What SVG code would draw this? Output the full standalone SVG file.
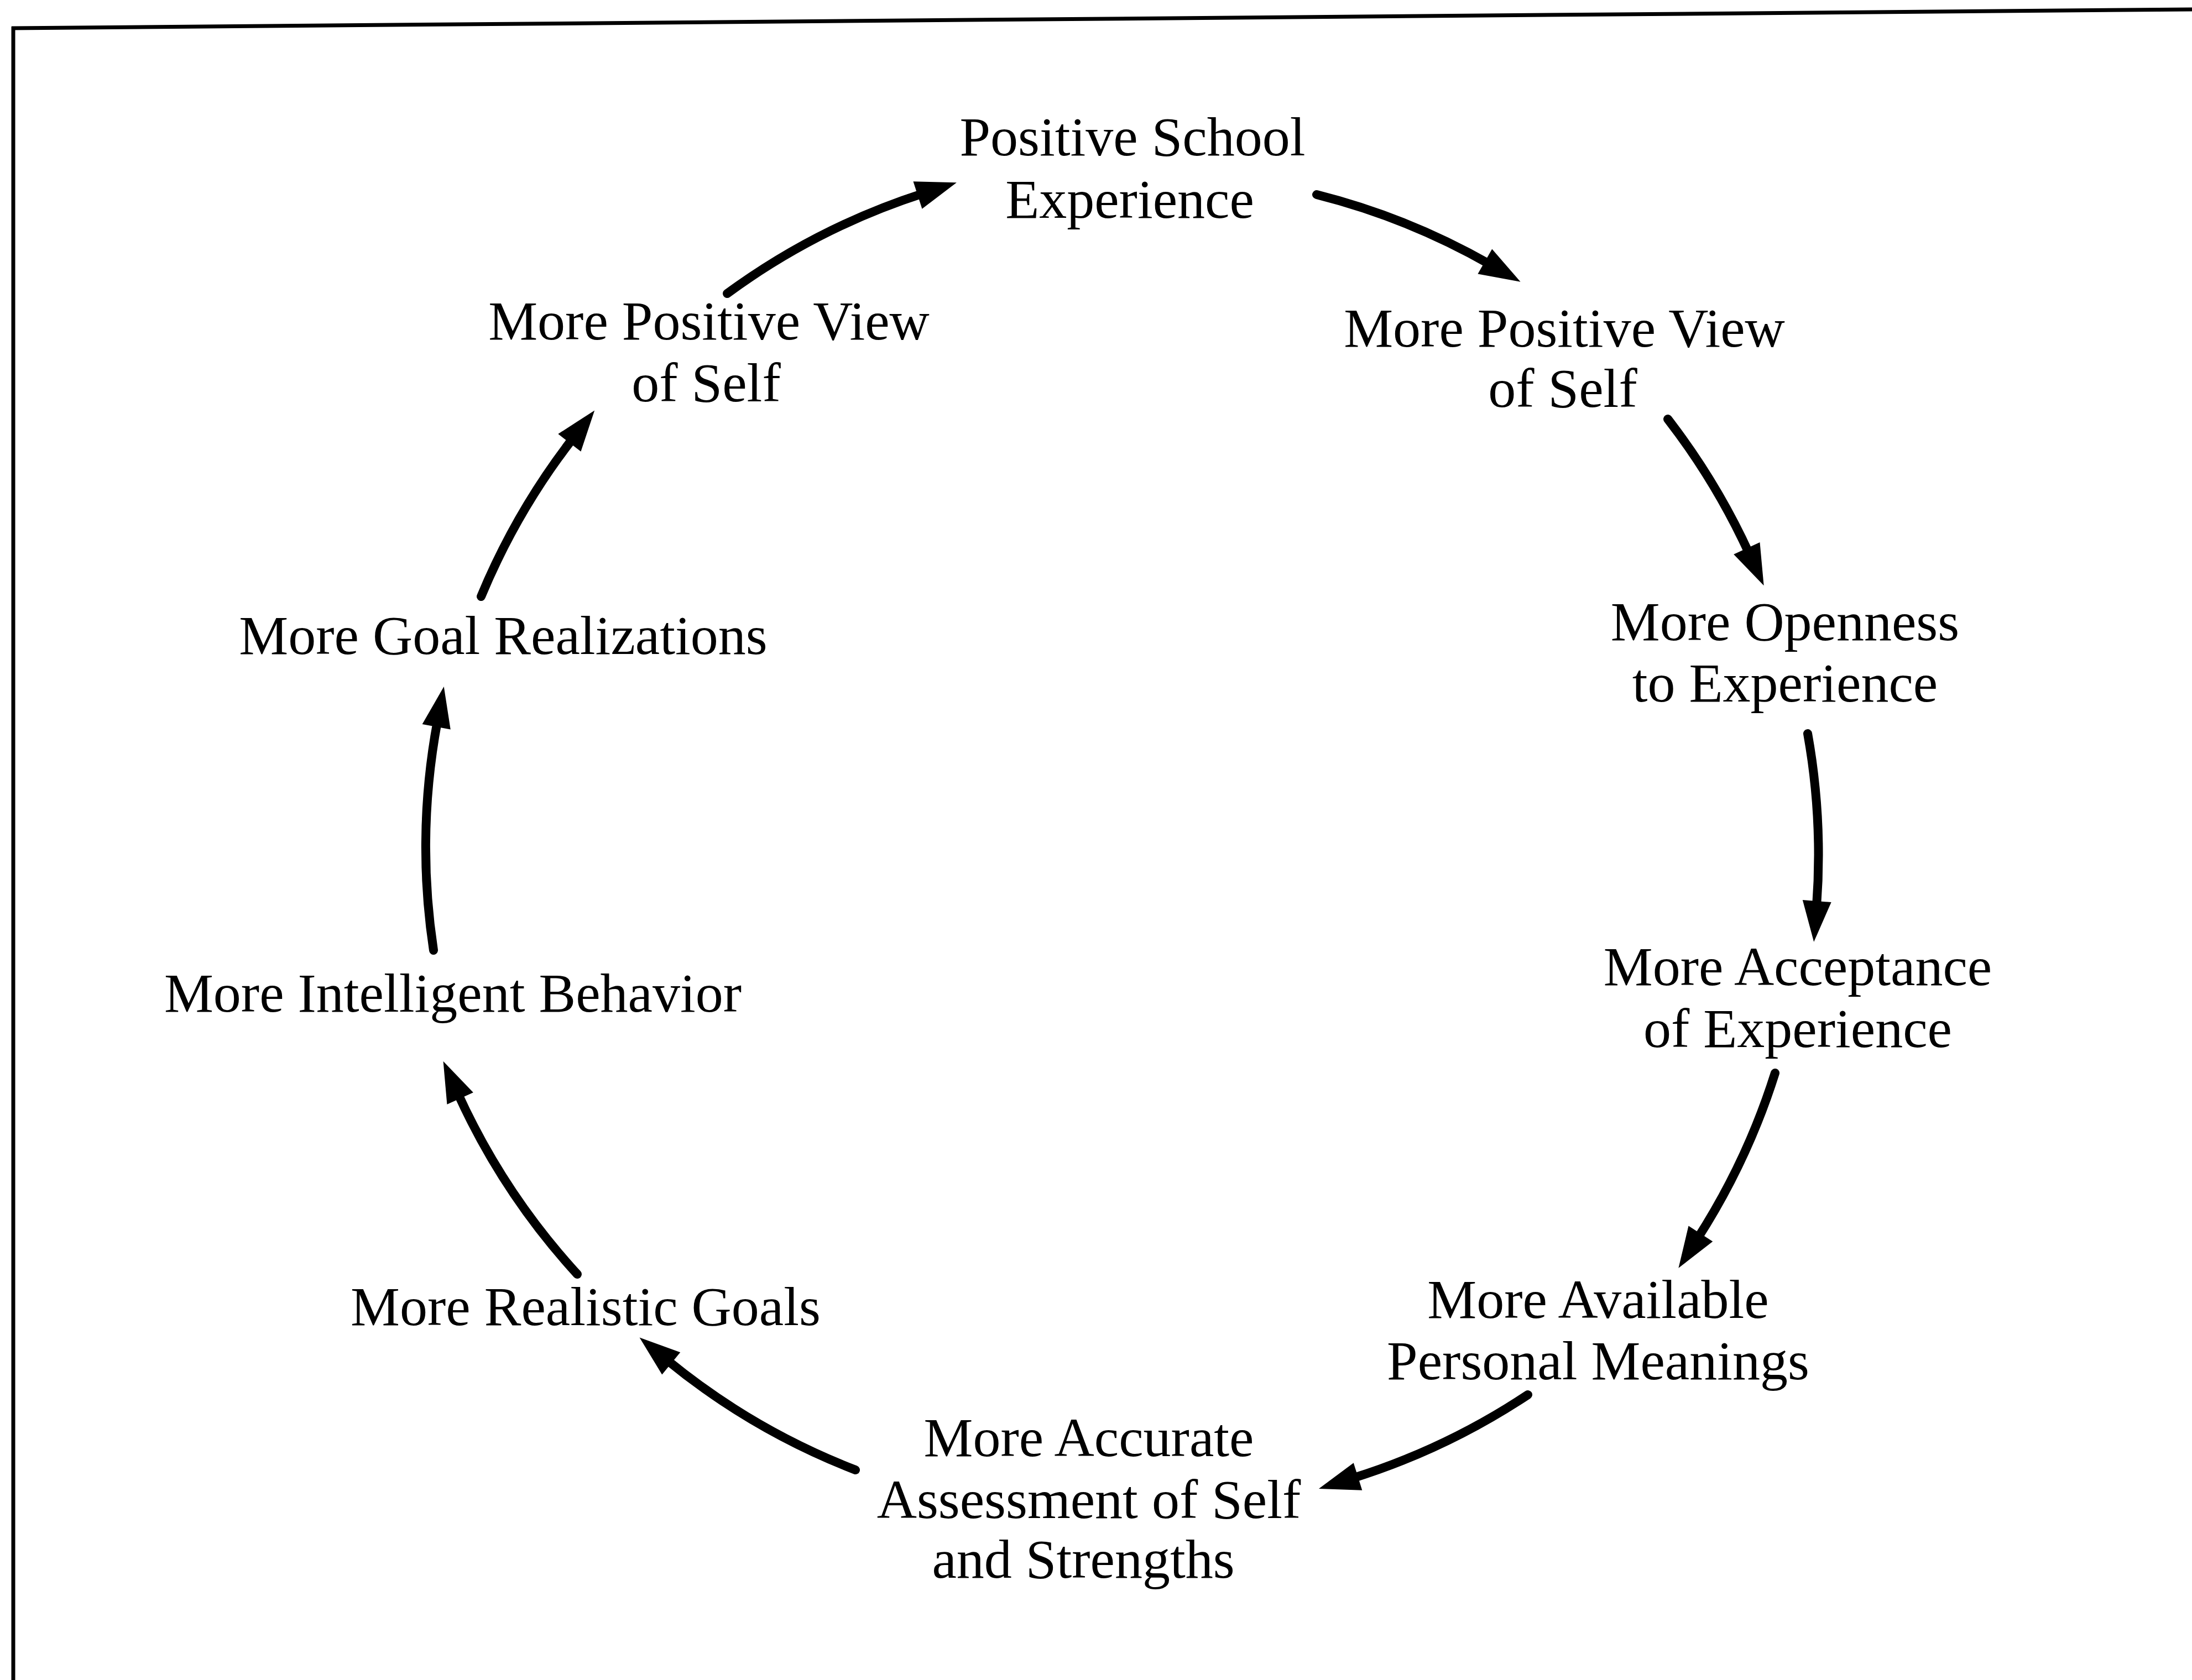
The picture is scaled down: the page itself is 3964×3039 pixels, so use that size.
<svg xmlns="http://www.w3.org/2000/svg" width="3964" height="3039" viewBox="0 0 3964 3039">
  <style>
    .lbl { font-family: "Liberation Serif", "Times New Roman", serif; font-size: 100px; fill: #000; text-anchor: middle; }
    .arc { fill: none; stroke: #000; stroke-width: 16; stroke-linecap: round; marker-end: url(#head); }
    .frame { stroke: #000; stroke-width: 7; fill: none; }
  </style>
  <defs>
    <marker id="head" markerUnits="userSpaceOnUse" markerWidth="90" markerHeight="70" refX="0" refY="0" orient="auto" overflow="visible">
      <path d="M-10,-26 L64,0 L-10,26 Z" fill="#000"/>
    </marker>
  </defs>

  <rect width="3964" height="3039" fill="#fff"/>

  <!-- frame: top and left rules -->
  <g id="frame">
    <line class="frame" x1="21" y1="51" x2="3964" y2="17"/>
    <line class="frame" x1="24" y1="48" x2="24" y2="3039"/>
  </g>

  <!-- cycle connectors, all clockwise along one circle -->
  <g id="connectors">
    <path class="arc" d="M2381,352 A1245,1245 0 0 1 2694,478"/>
    <path class="arc" d="M3016,758 A1245,1245 0 0 1 3163,1001"/>
    <path class="arc" d="M3269,1327 A1245,1245 0 0 1 3285,1640"/>
    <path class="arc" d="M3210,1941 A1245,1245 0 0 1 3070,2240"/>
    <path class="arc" d="M2763,2523 A1245,1245 0 0 1 2446,2674"/>
    <path class="arc" d="M1547,2659 A1245,1245 0 0 1 1206,2460"/>
    <path class="arc" d="M1044,2305 A1245,1245 0 0 1 828,1978"/>
    <path class="arc" d="M784,1719 A1245,1245 0 0 1 791,1305"/>
    <path class="arc" d="M870,1079 A1245,1245 0 0 1 1036,793"/>
    <path class="arc" d="M1315,531 A1245,1245 0 0 1 1669,350"/>
  </g>

  <g id="n-school">
    <text class="lbl" x="2048" y="281">Positive School</text>
    <text class="lbl" x="2043" y="394">Experience</text>
  </g>
  <g id="n-view-right">
    <text class="lbl" x="2829" y="627">More Positive View</text>
    <text class="lbl" x="2826" y="736">of Self</text>
  </g>
  <g id="n-openness">
    <text class="lbl" x="3228" y="1158">More Openness</text>
    <text class="lbl" x="3228" y="1269">to Experience</text>
  </g>
  <g id="n-acceptance">
    <text class="lbl" x="3251" y="1782">More Acceptance</text>
    <text class="lbl" x="3251" y="1894">of Experience</text>
  </g>
  <g id="n-meanings">
    <text class="lbl" x="2890" y="2384">More Available</text>
    <text class="lbl" x="2890" y="2495">Personal Meanings</text>
  </g>
  <g id="n-assessment">
    <text class="lbl" x="1969" y="2634">More Accurate</text>
    <text class="lbl" x="1969" y="2746">Assessment of Self</text>
    <text class="lbl" x="1959" y="2854">and Strengths</text>
  </g>
  <g id="n-goals">
    <text class="lbl" x="1059" y="2397">More Realistic Goals</text>
  </g>
  <g id="n-behavior">
    <text class="lbl" x="819" y="1830">More Intelligent Behavior</text>
  </g>
  <g id="n-realizations">
    <text class="lbl" x="910" y="1183">More Goal Realizations</text>
  </g>
  <g id="n-view-left">
    <text class="lbl" x="1282" y="614">More Positive View</text>
    <text class="lbl" x="1277" y="726">of Self</text>
  </g>
</svg>
